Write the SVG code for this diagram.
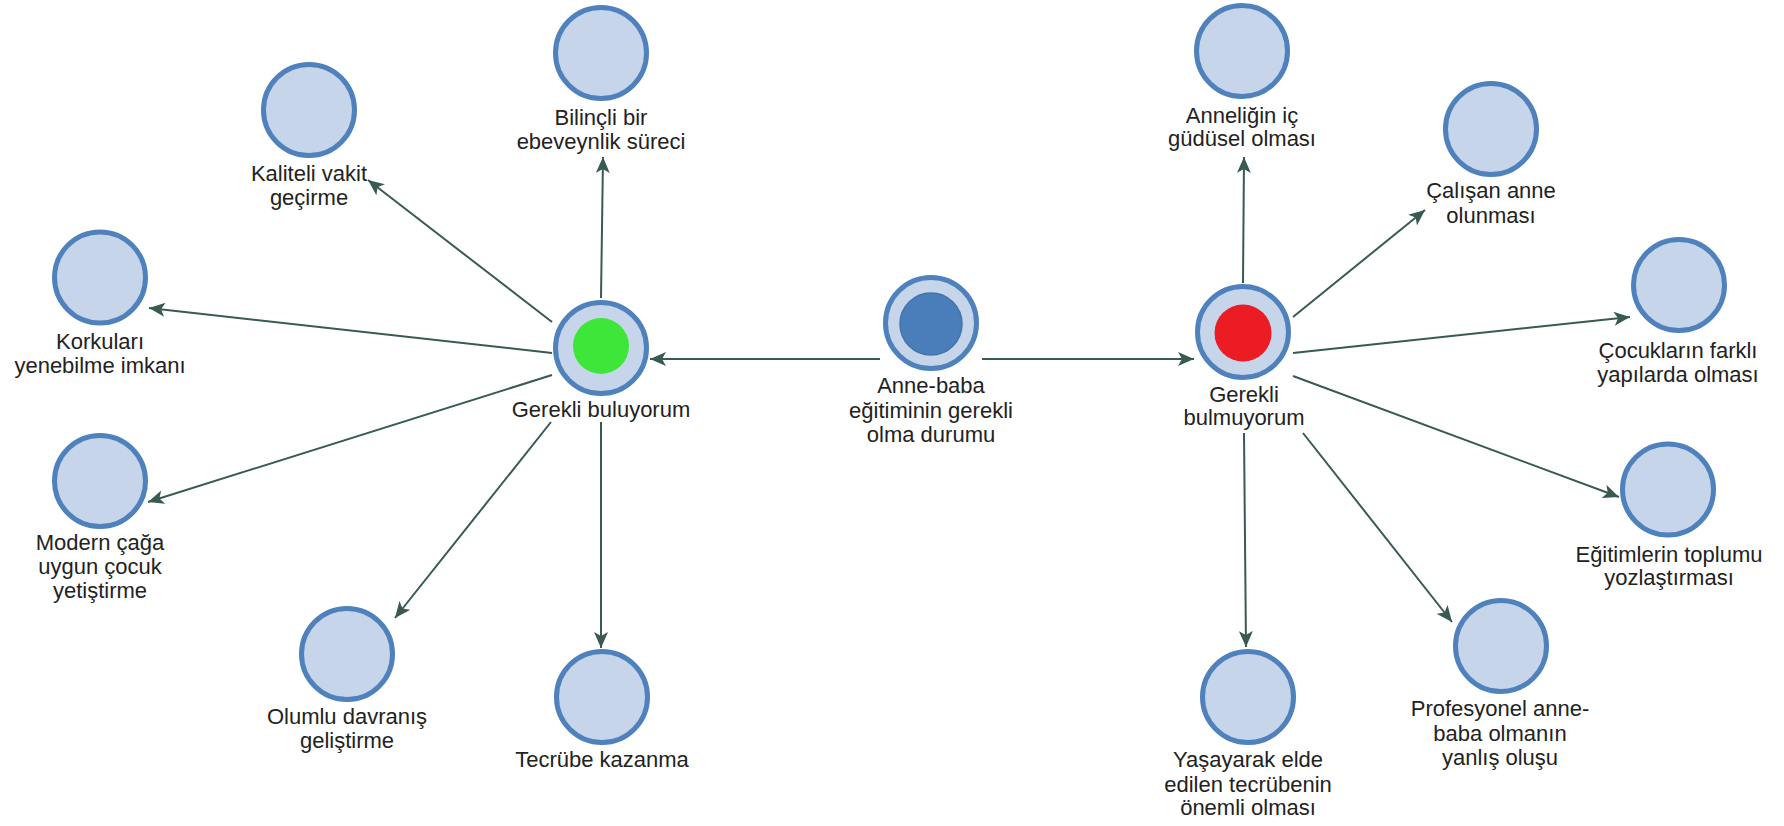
<svg xmlns="http://www.w3.org/2000/svg" width="1784" height="826" viewBox="0 0 1784 826">
<style>
.ring{fill:#c6d5e9;stroke:#4f81bd;stroke-width:5}
.lbl{font-family:"Liberation Sans",Arial,sans-serif;font-size:22px;fill:#222;text-anchor:middle}
.edge{stroke:#385a52;stroke-width:2;fill:none;marker-end:url(#arr)}
</style>
<defs>
<marker id="arr" markerUnits="userSpaceOnUse" markerWidth="18" markerHeight="14" refX="16" refY="7" orient="auto">
<path d="M0,0 L16,7 L0,14 L4,7 z" fill="#385a52"/>
</marker>
</defs>
<rect width="1784" height="826" fill="#fff"/>
<g id="connectors">
<line class="edge" x1="880" y1="359" x2="650" y2="359"/>
<line class="edge" x1="982" y1="359" x2="1194" y2="359"/>
<line class="edge" x1="601" y1="298" x2="603" y2="157"/>
<line class="edge" x1="552" y1="322" x2="368" y2="180"/>
<line class="edge" x1="552" y1="353" x2="149" y2="308"/>
<line class="edge" x1="552" y1="375" x2="148" y2="502"/>
<line class="edge" x1="551" y1="422" x2="395" y2="618"/>
<line class="edge" x1="601" y1="422" x2="601" y2="648"/>
<line class="edge" x1="1243" y1="283" x2="1244" y2="157"/>
<line class="edge" x1="1293" y1="317" x2="1425" y2="210"/>
<line class="edge" x1="1293" y1="353" x2="1630" y2="317"/>
<line class="edge" x1="1293" y1="376" x2="1619" y2="497"/>
<line class="edge" x1="1244" y1="433" x2="1246" y2="647"/>
<line class="edge" x1="1303" y1="433" x2="1452" y2="622"/>
</g>
<g id="center">
<circle class="ring" cx="931" cy="323" r="45.5"/>
<circle cx="931" cy="324" r="31" fill="#4a7ebb" stroke="#4273ad" stroke-width="1.5"/>
<text class="lbl" x="931" y="393">Anne-baba</text>
<text class="lbl" x="931" y="418">eğitiminin gerekli</text>
<text class="lbl" x="931" y="442">olma durumu</text>
</g>
<g id="hub-left">
<circle class="ring" cx="601" cy="348" r="45.5"/>
<circle cx="601" cy="346" r="28" fill="#3ee63a"/>
<text class="lbl" x="601" y="417">Gerekli buluyorum</text>
</g>
<g id="hub-right">
<circle class="ring" cx="1243" cy="332" r="45.5"/>
<circle cx="1243" cy="333" r="28.5" fill="#ec1c24"/>
<text class="lbl" x="1244" y="402">Gerekli</text>
<text class="lbl" x="1244" y="425">bulmuyorum</text>
</g>
<g id="n-bilincli">
<circle class="ring" cx="601" cy="53" r="45.5"/>
<text class="lbl" x="601" y="125">Bilinçli bir</text>
<text class="lbl" x="601" y="149">ebeveynlik süreci</text>
</g>
<g id="n-kaliteli">
<circle class="ring" cx="309" cy="110" r="45.5"/>
<text class="lbl" x="309" y="181">Kaliteli vakit</text>
<text class="lbl" x="309" y="205">geçirme</text>
</g>
<g id="n-korkulari">
<circle class="ring" cx="100" cy="277.5" r="45.5"/>
<text class="lbl" x="100" y="349">Korkuları</text>
<text class="lbl" x="100" y="373">yenebilme imkanı</text>
</g>
<g id="n-modern">
<circle class="ring" cx="100" cy="481" r="45.5"/>
<text class="lbl" x="100" y="550">Modern çağa</text>
<text class="lbl" x="100" y="574">uygun çocuk</text>
<text class="lbl" x="100" y="598">yetiştirme</text>
</g>
<g id="n-olumlu">
<circle class="ring" cx="347" cy="654" r="45.5"/>
<text class="lbl" x="347" y="724">Olumlu davranış</text>
<text class="lbl" x="347" y="748">geliştirme</text>
</g>
<g id="n-tecrube">
<circle class="ring" cx="602" cy="697" r="45.5"/>
<text class="lbl" x="602" y="767">Tecrübe kazanma</text>
</g>
<g id="n-annelik">
<circle class="ring" cx="1242" cy="51" r="45.5"/>
<text class="lbl" x="1242" y="123">Anneliğin iç</text>
<text class="lbl" x="1242" y="146">güdüsel olması</text>
</g>
<g id="n-calisan">
<circle class="ring" cx="1491" cy="129" r="45.5"/>
<text class="lbl" x="1491" y="198">Çalışan anne</text>
<text class="lbl" x="1491" y="223">olunması</text>
</g>
<g id="n-cocuklarin">
<circle class="ring" cx="1679" cy="285" r="45.5"/>
<text class="lbl" x="1678" y="358">Çocukların farklı</text>
<text class="lbl" x="1678" y="382">yapılarda olması</text>
</g>
<g id="n-egitimlerin">
<circle class="ring" cx="1668" cy="489.5" r="45.5"/>
<text class="lbl" x="1669" y="562">Eğitimlerin toplumu</text>
<text class="lbl" x="1669" y="585">yozlaştırması</text>
</g>
<g id="n-profesyonel">
<circle class="ring" cx="1501" cy="646" r="45.5"/>
<text class="lbl" x="1500" y="716">Profesyonel anne-</text>
<text class="lbl" x="1500" y="741">baba olmanın</text>
<text class="lbl" x="1500" y="765">yanlış oluşu</text>
</g>
<g id="n-yasayarak">
<circle class="ring" cx="1248" cy="697" r="45.5"/>
<text class="lbl" x="1248" y="767">Yaşayarak elde</text>
<text class="lbl" x="1248" y="792">edilen tecrübenin</text>
<text class="lbl" x="1248" y="815">önemli olması</text>
</g>
</svg>
